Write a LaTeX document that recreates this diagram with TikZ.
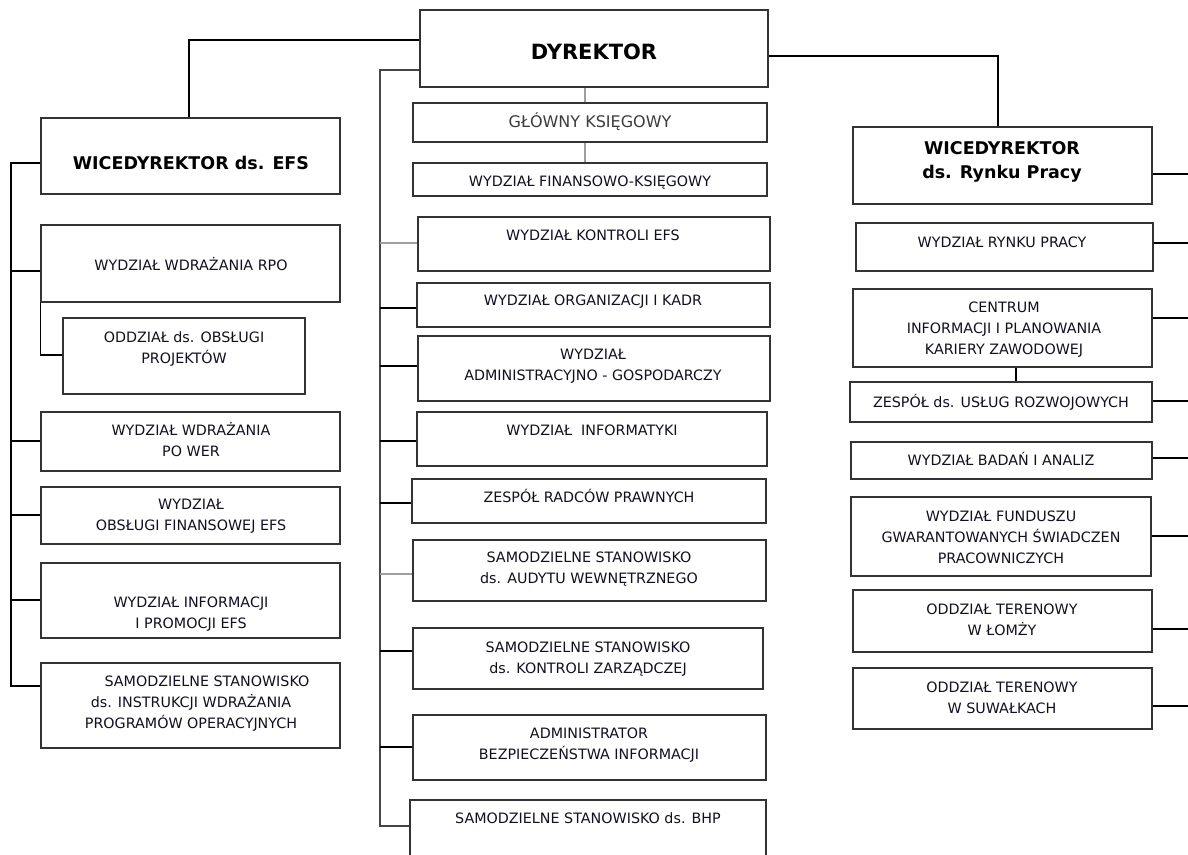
\documentclass[tikz,border=0pt]{standalone}
\usepackage{fontspec}
\setmainfont{DejaVu Sans}
\usetikzlibrary{fit}
\definecolor{boxc}{HTML}{333333}
\definecolor{txtc}{HTML}{101020}
\definecolor{gkc}{HTML}{3C3C3C}
\newcommand\sx{\rule[-0.3em]{0pt}{1.33em}}
\newcommand\ubox[5]{\coordinate (#1-a) at (#2,#3);\coordinate (#1-b) at (#4,#5);\node[box, fit=(#1-a)(#1-b)] (#1) {};}
\tikzset{
  box/.style={draw=boxc, line width=1.2pt, inner sep=0pt},
  txt/.style={font=\fontsize{14.3}{21}\selectfont, align=center, inner sep=0pt, text=txtc},
  ttl/.style={font=\fontsize{17.5}{24}\selectfont\bfseries, align=center, inner sep=0pt, text=black},
  conn/.style={draw=black, line width=1.2pt},
  gconn/.style={draw=gray!75, line width=1.2pt},
  mconn/.style={draw=gray!55!black, line width=1.2pt}
}
\begin{document}
\begin{tikzpicture}[x=1pt,y=-1pt]
\useasboundingbox (0,0) rectangle (1188,854);
\clip (0,0) rectangle (1188,854);
% trunk anchors
\coordinate (lt) at (11,0);
\coordinate (mt) at (380,0);
\coordinate (rt) at (1192,0);
% boxes
\ubox{dyr}{420}{10}{768}{87}
\ubox{wefs}{41}{118}{340}{194}
\ubox{rpo}{41}{225}{340}{302}
\ubox{odd}{63}{318}{305}{394}
\ubox{pow}{41}{412}{340}{471}
\ubox{fin}{41}{487}{340}{544}
\ubox{inf}{41}{563}{340}{638}
\ubox{sam}{41}{663}{340}{748}
\ubox{gk}{413}{103}{767}{142}
\ubox{wfk}{413}{163}{767}{196}
\ubox{kef}{418}{217}{770}{271}
\ubox{org}{417}{283}{770}{327}
\ubox{adm}{418}{336}{770}{401}
\ubox{inft}{417}{412}{767}{466}
\ubox{rad}{412}{479}{766}{523}
\ubox{aud}{413}{540}{766}{601}
\ubox{kz}{413}{628}{763}{689}
\ubox{abi}{413}{715}{766}{780}
\ubox{bhp}{410}{800}{766}{870}
\ubox{wrp}{853}{127}{1152}{204}
\ubox{wryn}{856}{223}{1153}{271}
\ubox{cen}{853}{289}{1152}{367}
\ubox{zus}{850}{382}{1152}{422}
\ubox{bad}{851}{442}{1152}{479}
\ubox{fund}{851}{497}{1151}{576}
\ubox{lom}{853}{590}{1152}{652}
\ubox{suw}{853}{668}{1152}{729}
% texts
\node[font=\fontsize{21}{25}\selectfont\bfseries, inner sep=0pt] (dyr-t) at (594,52) {\sx DYREKTOR};
\node[ttl] (wefs-t) at (191,163) {\sx WICEDYREKTOR ds. EFS};
\node[txt] (rpo-t) at (191,265) {\sx WYDZIAŁ WDRAŻANIA RPO};
\node[txt] (odd-t) at (184,347.5) {\sx ODDZIAŁ ds. OBSŁUGI\\\sx PROJEKTÓW};
\node[txt] (pow-t) at (191,441) {\sx WYDZIAŁ WDRAŻANIA\\\sx PO WER};
\node[txt] (fin-t) at (191,515) {\sx WYDZIAŁ\\\sx OBSŁUGI FINANSOWEJ EFS};
\node[txt] (inf-t) at (191,612.5) {\sx WYDZIAŁ INFORMACJI\\\sx I PROMOCJI EFS};
\node[txt] (sam-t) at (191,702) {\sx\hspace*{32pt}SAMODZIELNE STANOWISKO\\\sx ds. INSTRUKCJI WDRAŻANIA\\\sx PROGRAMÓW OPERACYJNYCH};
\node[font=\fontsize{16}{20}\selectfont, inner sep=0pt, text=gkc] (gk-t) at (590,122) {\sx GŁÓWNY KSIĘGOWY};
\node[txt] (wfk-t) at (590,181) {\sx WYDZIAŁ FINANSOWO-KSIĘGOWY};
\node[txt] (kef-t) at (593,235) {\sx WYDZIAŁ KONTROLI EFS};
\node[txt] (org-t) at (593,300) {\sx WYDZIAŁ ORGANIZACJI I KADR};
\node[txt] (adm-t) at (593,364.5) {\sx WYDZIAŁ\\\sx ADMINISTRACYJNO - GOSPODARCZY};
\node[txt] (inft-t) at (592,430) {\sx WYDZIAŁ\ \ INFORMATYKI};
\node[txt] (rad-t) at (589,497) {\sx ZESPÓŁ RADCÓW PRAWNYCH};
\node[txt] (aud-t) at (589,567.5) {\sx SAMODZIELNE STANOWISKO\\\sx ds. AUDYTU WEWNĘTRZNEGO};
\node[txt] (kz-t) at (588,657.5) {\sx SAMODZIELNE STANOWISKO\\\sx ds. KONTROLI ZARZĄDCZEJ};
\node[txt] (abi-t) at (589,744) {\sx ADMINISTRATOR\\\sx BEZPIECZEŃSTWA INFORMACJI};
\node[txt] (bhp-t) at (588,818) {\sx SAMODZIELNE STANOWISKO ds. BHP};
\node[ttl] (wrp-t) at (1002,160) {\sx WICEDYREKTOR\\\sx ds. Rynku Pracy};
\node[txt] (wryn-t) at (1002,242) {\sx WYDZIAŁ RYNKU PRACY};
\node[txt] (cen-t) at (1004,328) {\sx CENTRUM\\\sx INFORMACJI I PLANOWANIA\\\sx KARIERY ZAWODOWEJ};
\node[txt] (zus-t) at (1001,402) {\sx ZESPÓŁ ds. USŁUG ROZWOJOWYCH};
\node[txt] (bad-t) at (1001,460) {\sx WYDZIAŁ BADAŃ I ANALIZ};
\node[txt] (fund-t) at (1001,537.5) {\sx WYDZIAŁ FUNDUSZU\\\sx GWARANTOWANYCH ŚWIADCZEN\\\sx PRACOWNICZYCH};
\node[txt] (lom-t) at (1002,619.5) {\sx ODDZIAŁ TERENOWY\\\sx W ŁOMŻY};
\node[txt] (suw-t) at (1002,697.5) {\sx ODDZIAŁ TERENOWY\\\sx W SUWAŁKACH};
% connectors from DYREKTOR
\draw[conn] (dyr.west |- 0,40) -| (wefs.north -| 189,0);
\draw[conn] (dyr.east |- 0,56) -| (wrp.north -| 998,0);
\draw[gconn] (dyr.south -| 585,0) -- (gk.north -| 585,0);
\draw[gconn] (gk.south -| 585,0) -- (wfk.north -| 585,0);
% middle trunk
\draw[mconn] (dyr.west |- 0,70) -| (mt |- 0,826) -- (bhp.west |- 0,826);
\draw[gconn] (mt |- 0,243) -- (kef.west |- 0,243);
\draw[conn] (mt |- 0,308) -- (org.west |- 0,308);
\draw[conn] (mt |- 0,366) -- (adm.west |- 0,366);
\draw[conn] (mt |- 0,441) -- (inft.west |- 0,441);
\draw[conn] (mt |- 0,503) -- (rad.west |- 0,503);
\draw[gconn] (mt |- 0,574) -- (aud.west |- 0,574);
\draw[conn] (mt |- 0,651) -- (kz.west |- 0,651);
\draw[conn] (mt |- 0,747) -- (abi.west |- 0,747);
% left trunk
\draw[conn] (wefs.west |- 0,163) -- (lt |- 0,163) -- (lt |- 0,686) -- (sam.west |- 0,686);
\draw[conn] (lt |- 0,271) -- (rpo.west |- 0,271);
\draw[conn] (rpo.south west) -- (rpo.south west |- 0,355) -- (odd.west |- 0,355);
\draw[conn] (lt |- 0,441) -- (pow.west |- 0,441);
\draw[conn] (lt |- 0,515) -- (fin.west |- 0,515);
\draw[conn] (lt |- 0,600) -- (inf.west |- 0,600);
% right stubs
\draw[conn] (wrp.east |- 0,174) -- (rt |- 0,174);
\draw[conn] (wryn.east |- 0,243) -- (rt |- 0,243);
\draw[conn] (cen.east |- 0,318) -- (rt |- 0,318);
\draw[conn] (zus.east |- 0,401) -- (rt |- 0,401);
\draw[conn] (bad.east |- 0,458) -- (rt |- 0,458);
\draw[conn] (fund.east |- 0,536) -- (rt |- 0,536);
\draw[conn] (lom.east |- 0,629) -- (rt |- 0,629);
\draw[conn] (suw.east |- 0,706) -- (rt |- 0,706);
\draw[conn] (cen.south -| 1016,0) -- (zus.north -| 1016,0);
\end{tikzpicture}
\end{document}
